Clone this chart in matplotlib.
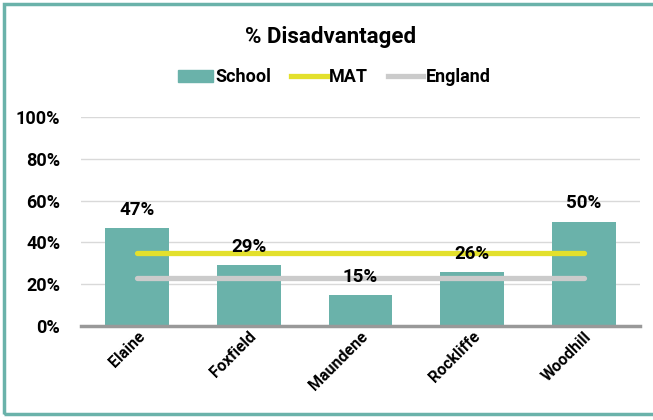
import matplotlib
matplotlib.use("Agg")
import matplotlib.pyplot as plt
from matplotlib.patches import Rectangle, Patch
from matplotlib.lines import Line2D
from matplotlib.ticker import PercentFormatter

schools = ["Elaine", "Foxfield", "Maundene", "Rockliffe", "Woodhill"]
school_pct = [47, 29, 15, 26, 50]
mat_pct = [35, 35, 35, 35, 35]
england_pct = [23, 23, 23, 23, 23]

teal = "#6AB2AA"
yellow = "#E3E02C"
grey = "#CBCBCB"

plt.rcParams["font.family"] = ["Roboto", "DejaVu Sans"]
plt.rcParams["font.weight"] = "bold"

fig = plt.figure(figsize=(6.53, 4.2), dpi=100)
ax = fig.add_axes([0.124, 0.224, 0.856, 0.497])

x = list(range(len(schools)))
ax.bar(x, school_pct, width=0.57, color=teal, zorder=2)
ax.plot(x, mat_pct, color=yellow, lw=3.8, zorder=3, solid_capstyle="round")
ax.plot(x, england_pct, color=grey, lw=3.8, zorder=3, solid_capstyle="round")

for xi, v in zip(x, school_pct):
    ax.annotate(f"{v}%", (xi, v), xytext=(0, 13), textcoords="offset points",
                ha="center", va="center", fontsize=13.5, fontweight="bold", zorder=4)

ax.set_xlim(-0.5, len(schools) - 0.5)
ax.set_ylim(0, 100)
ax.set_yticks([0, 20, 40, 60, 80, 100])
ax.yaxis.set_major_formatter(PercentFormatter(decimals=0))
ax.grid(axis="y", color="#D9D9D9", lw=1, zorder=0)
ax.set_xticks(x)
ax.set_xticklabels(schools, rotation=45, ha="right", rotation_mode="anchor",
                   fontsize=11.5, fontweight="bold")
ax.tick_params(axis="both", length=0)
ax.tick_params(axis="y", labelsize=13, pad=15)
ax.tick_params(axis="x", pad=2)
for s in ["top", "right", "left"]:
    ax.spines[s].set_visible(False)
ax.spines["bottom"].set_color("#999999")
ax.spines["bottom"].set_linewidth(2.5)
ax.spines["bottom"].set_zorder(5)

fig.text(0.506, 0.913, "% Disadvantaged", ha="center", va="center",
         fontsize=16, fontweight="bold")

handles = [Patch(color=teal, label="School"),
           Line2D([], [], color=yellow, lw=3.8, label="MAT"),
           Line2D([], [], color=grey, lw=3.8, label="England")]
fig.legend(handles=handles, loc="center", bbox_to_anchor=(0.512, 0.816), ncol=3,
           frameon=False, handlelength=1.95, handletextpad=0.15,
           columnspacing=1.1, prop={"weight": "bold", "size": 13})

fig.patches.append(Rectangle((0.006, 0.014), 1.1, 0.977, transform=fig.transFigure,
                             fill=False, edgecolor=teal, lw=2.5))

fig.savefig("out.png", dpi=100)
